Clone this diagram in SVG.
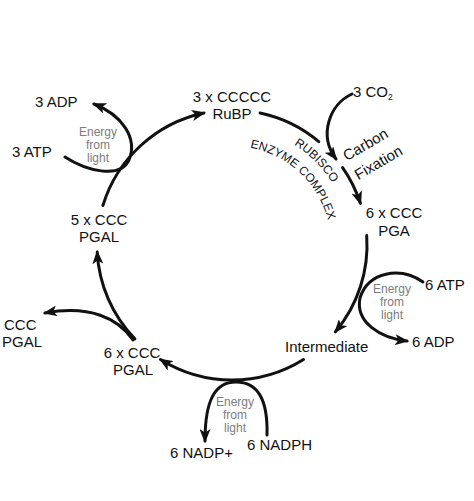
<svg xmlns="http://www.w3.org/2000/svg" width="474" height="501" viewBox="0 0 474 501">
<defs>
<style>
.ln{fill:none;stroke:#111;stroke-width:3;stroke-linecap:round}
.ar{marker-end:url(#ah)}
.t{font-family:"Liberation Sans",Arial,sans-serif;font-size:15px;fill:#111}
.e{font-family:"Liberation Sans",Arial,sans-serif;font-size:12px;fill:#7d7d7d;text-anchor:middle}
.m{text-anchor:middle}
.rb{font-family:"Liberation Sans",Arial,sans-serif;font-size:12px;fill:#111}
</style>
<marker id="ah" viewBox="0 0 14 11" refX="12" refY="5.5" markerWidth="14" markerHeight="11" markerUnits="userSpaceOnUse" orient="auto">
<path d="M0,0 L14,5.5 L0,11 L3.5,5.5 z" fill="#111"/>
</marker>
<path id="pRub" d="M262.5,131 A118,118 0 0 1 346,214.5"/>
<path id="pEnz" d="M237.2,146.1 A99,99 0 0 1 330.3,232.9"/>
</defs>
<rect width="474" height="501" fill="#fff"/>
<g id="connectors">
<path class="ln ar" d="M102.9,205.5 A135,135 0 0 1 203.9,113.0"/>
<path class="ln" d="M260.1,113 A135,135 0 0 1 318.8,141.6"/>
<path class="ln ar" d="M342.6,167.6 A135,135 0 0 1 360.4,203.3"/>
<path class="ln ar" d="M366.7,235.6 A135,135 0 0 1 335.4,331.8"/>
<path class="ln ar" d="M303.5,359.5 A135,135 0 0 1 160.5,359.5"/>
<path class="ln ar" d="M134.9,338.8 A135,135 0 0 1 97.2,252.1"/>
<path class="ln ar" d="M133,340 C118,318 90,305 45,313"/>
<path class="ln ar" d="M65,157 C85,170 120,180 129,160 C138,138 122,115 94,104"/>
<path class="ln ar" d="M352,94 C330,104 318,135 336,159"/>
<path class="ln ar" d="M423,282 C400,266 368,272 360,298 C355,322 380,338 407,341"/>
<path class="ln ar" d="M267,435 C268,400 258,382 236,382 C215,382 205,400 205,441"/>
</g>
<g id="rubp"><text class="t m" x="232" y="102">3 x CCCCC</text><text class="t m" x="232" y="119">RuBP</text></g>
<g id="co2"><text class="t" x="353" y="97" font-size="14.5px">3 CO<tspan font-size="8.5px" dy="3">2</tspan></text></g>
<g id="fixation"><text class="t m" font-size="19px" transform="translate(368,149) rotate(-30)">Carbon</text><text class="t m" font-size="19px" transform="translate(381,167) rotate(-30)">Fixation</text></g>
<g id="rubisco"><text class="rb"><textPath href="#pRub" startOffset="50%" text-anchor="middle">RUBISCO</textPath></text><text class="rb"><textPath href="#pEnz" startOffset="50%" text-anchor="middle">ENZYME COMPLEX</textPath></text></g>
<g id="pga"><text class="t m" x="394" y="218">6 x CCC</text><text class="t m" x="394" y="236">PGA</text></g>
<g id="atp6"><text class="t" x="425" y="290">6 ATP</text><text class="t" x="412" y="347">6 ADP</text><text class="e" x="392" y="293">Energy</text><text class="e" x="392" y="306">from</text><text class="e" x="392" y="319">light</text></g>
<g id="intermediate"><text class="t" x="285" y="352">Intermediate</text></g>
<g id="nadph"><text class="t" x="170" y="458">6 NADP+</text><text class="t" x="247" y="450">6 NADPH</text><text class="e" x="235" y="406">Energy</text><text class="e" x="235" y="419">from</text><text class="e" x="235" y="432">light</text></g>
<g id="pgal6"><text class="t m" x="132" y="358">6 x CCC</text><text class="t m" x="133" y="375">PGAL</text></g>
<g id="pgal1"><text class="t" x="4" y="330">CCC</text><text class="t" x="2" y="347">PGAL</text></g>
<g id="pgal5"><text class="t m" x="99" y="225">5 x CCC</text><text class="t m" x="99" y="242">PGAL</text></g>
<g id="atp3"><text class="t" x="35" y="107">3 ADP</text><text class="t" x="12" y="157">3 ATP</text><text class="e" x="98" y="136">Energy</text><text class="e" x="98" y="149">from</text><text class="e" x="98" y="162">light</text></g>
</svg>
